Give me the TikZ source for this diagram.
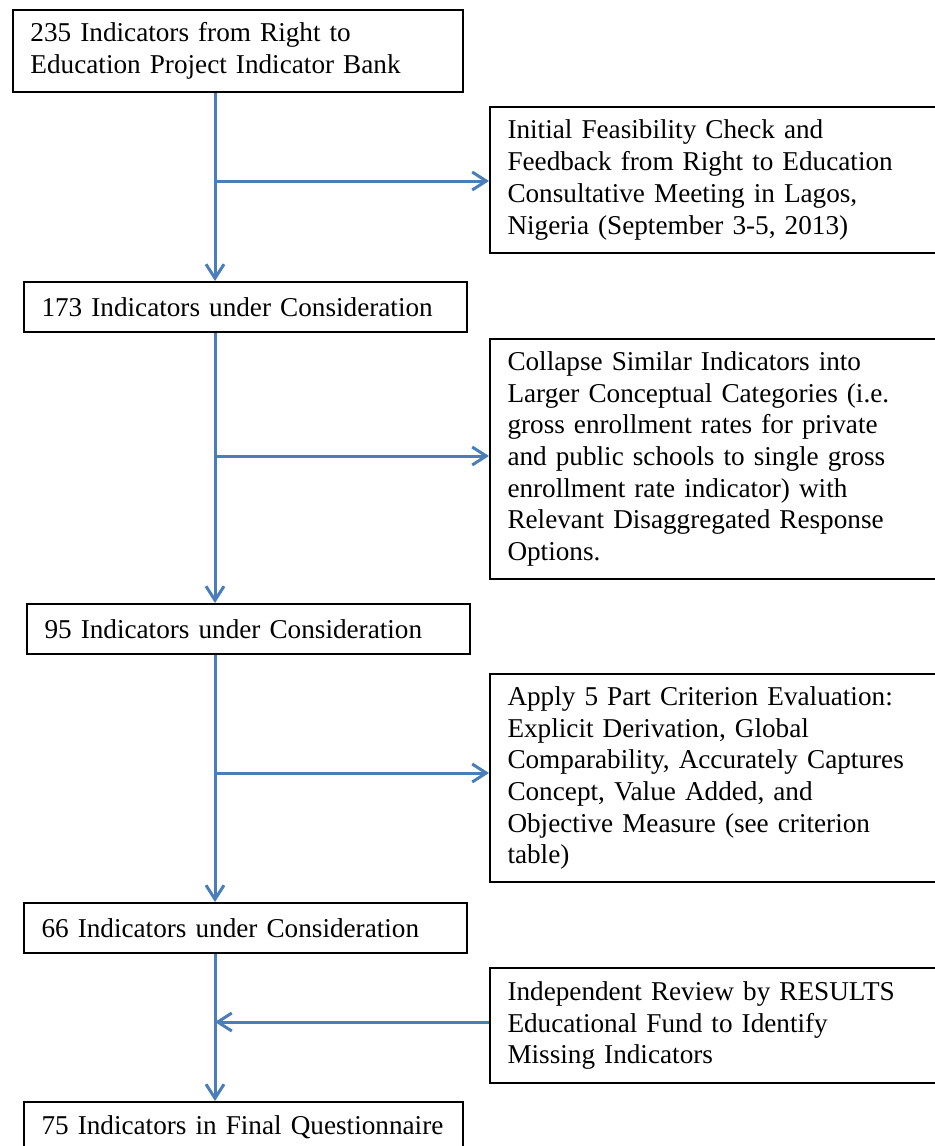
\documentclass[tikz,border=0pt]{standalone}
\usepackage{fontspec}
\setmainfont{Liberation Serif}
\usetikzlibrary{arrows.meta}
\definecolor{conn}{HTML}{4A7EBB}
\newcommand\bxfont{\fontsize{13.6}{15.85}\selectfont\spaceskip 2.5pt plus 0.5pt minus 0.3pt\relax\hyphenpenalty 10000\relax}
\tikzset{
  box/.style={draw=black, line width=1pt, anchor=north west, align=left,
    inner xsep=8.75pt, inner ysep=0pt, font=\bxfont},
  lbox/.style={box, text width=#1},
  arr/.style={draw=conn, line width=1.5pt, -{Straight Barb[length=7pt,width=9pt,line width=1.5pt]}},
}
\begin{document}
\begin{tikzpicture}[x=0.5pt, y=-0.5pt]
\useasboundingbox (0,0) rectangle (935,1146);
% left boxes
\node[lbox=207.5pt, minimum height=41pt] (b1) at (12,9)
  {235 Indicators from Right to\\Education Project Indicator Bank};
\node[lbox=204pt, minimum height=25pt] (b3) at (23,281)
  {\mbox{173 Indicators under Consideration}};
\node[lbox=204pt, minimum height=25pt] (b5) at (26,603)
  {\mbox{95 Indicators under Consideration}};
\node[lbox=204pt, minimum height=25pt] (b7) at (23,902)
  {\mbox{66 Indicators under Consideration}};
\node[lbox=202pt, minimum height=25pt] (b9) at (23,1101)
  {\mbox{75 Indicators in Final Questionnaire}};
% right boxes
\node[lbox=210.5pt, minimum height=73pt] (b2) at (489,106)
  {Initial Feasibility Check and\\Feedback from Right to Education\\Consultative Meeting in Lagos,\\Nigeria (September 3-5, 2013)};
\node[lbox=210.5pt, minimum height=120pt] (b4) at (489,338)
  {Collapse Similar Indicators into\\Larger Conceptual Categories (i.e.\\gross enrollment rates for private\\and public schools to single gross\\enrollment rate indicator) with\\Relevant Disaggregated Response\\Options.};
\node[lbox=210.5pt, minimum height=104pt] (b6) at (489,673)
  {Apply 5 Part Criterion Evaluation:\\Explicit Derivation, Global\\Comparability, Accurately Captures\\Concept, Value Added, and\\Objective Measure (see criterion\\table)};
\node[lbox=210.5pt, minimum height=57.5pt] (b8) at (489,967)
  {Independent Review by RESULTS\\Educational Fund to Identify\\Missing Indicators};
% trunk and junctions
\coordinate (tx) at (215,0);
\coordinate (j1) at (215,181);
\coordinate (j2) at (215,456);
\coordinate (j3) at (215,773);
\coordinate (j4) at (215,1022);
\draw[arr] (tx |- b1.south) -- (tx |- b3.north);
\draw[arr] (j1) -- (j1 -| b2.west);
\draw[arr] (tx |- b3.south) -- (tx |- b5.north);
\draw[arr] (j2) -- (j2 -| b4.west);
\draw[arr] (tx |- b5.south) -- (tx |- b7.north);
\draw[arr] (j3) -- (j3 -| b6.west);
\draw[arr] (tx |- b7.south) -- (tx |- b9.north);
\draw[arr] (j4 -| b8.west) -- (j4);
\end{tikzpicture}
\end{document}
